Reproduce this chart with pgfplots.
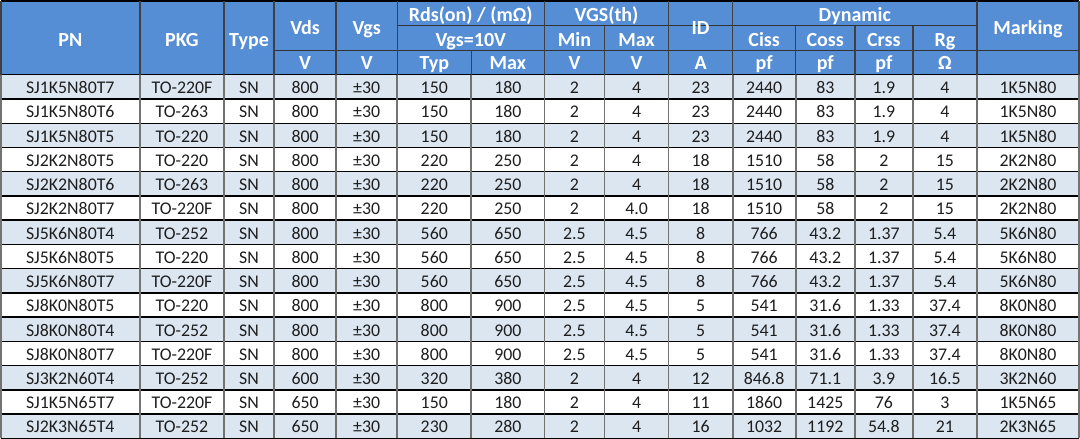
\documentclass[border=0pt]{standalone}
\usepackage{pgfplots}
\usepackage{pgfplotstable}
\pgfplotsset{compat=1.18}
\usepackage{fontspec}
\setmainfont{Carlito}
\definecolor{hdr}{RGB}{85,142,213}
\definecolor{alt}{RGB}{220,230,241}
\definecolor{vline}{RGB}{115,115,115}
\definecolor{txt}{RGB}{30,30,30}

\pgfplotstableread[col sep=comma]{
PN,PKG,Type,Vds,Vgs,Typ,RMax,Min,VMax,ID,Ciss,Coss,Crss,Rg,Marking
SJ1K5N80T7,TO-220F,SN,800,±30,150,180,2,4,23,2440,83,1.9,4,1K5N80
SJ1K5N80T6,TO-263,SN,800,±30,150,180,2,4,23,2440,83,1.9,4,1K5N80
SJ1K5N80T5,TO-220,SN,800,±30,150,180,2,4,23,2440,83,1.9,4,1K5N80
SJ2K2N80T5,TO-220,SN,800,±30,220,250,2,4,18,1510,58,2,15,2K2N80
SJ2K2N80T6,TO-263,SN,800,±30,220,250,2,4,18,1510,58,2,15,2K2N80
SJ2K2N80T7,TO-220F,SN,800,±30,220,250,2,4.0,18,1510,58,2,15,2K2N80
SJ5K6N80T4,TO-252,SN,800,±30,560,650,2.5,4.5,8,766,43.2,1.37,5.4,5K6N80
SJ5K6N80T5,TO-220,SN,800,±30,560,650,2.5,4.5,8,766,43.2,1.37,5.4,5K6N80
SJ5K6N80T7,TO-220F,SN,800,±30,560,650,2.5,4.5,8,766,43.2,1.37,5.4,5K6N80
SJ8K0N80T5,TO-220,SN,800,±30,800,900,2.5,4.5,5,541,31.6,1.33,37.4,8K0N80
SJ8K0N80T4,TO-252,SN,800,±30,800,900,2.5,4.5,5,541,31.6,1.33,37.4,8K0N80
SJ8K0N80T7,TO-220F,SN,800,±30,800,900,2.5,4.5,5,541,31.6,1.33,37.4,8K0N80
SJ3K2N60T4,TO-252,SN,600,±30,320,380,2,4,12,846.8,71.1,3.9,16.5,3K2N60
SJ1K5N65T7,TO-220F,SN,650,±30,150,180,2,4,11,1860,1425,76,3,1K5N65
SJ2K3N65T4,TO-252,SN,650,±30,230,280,2,4,16,1032,1192,54.8,21,2K3N65
}\tbl

\begin{document}
\begin{tikzpicture}
\begin{axis}[scale only axis, width=540pt, height=219pt,
  xmin=0, xmax=1080, ymin=0, ymax=438, y dir=reverse,
  hide axis, clip=false]
\pgfplotsextra{
  % backgrounds
  \fill[hdr] (axis cs:0,0) rectangle (axis cs:1077,74);
  \foreach \r in {0,2,...,14} {
    \pgfmathsetmacro\yt{74+\r*24.2}
    \pgfmathsetmacro\yb{74+(\r+1)*24.2}
    \fill[alt] (axis cs:0,\yt) rectangle (axis cs:1077,\yb);
  }
  % horizontal lines
  \foreach \r in {0,...,15} {
    \pgfmathsetmacro\yy{74+\r*24.2}
    \draw[black, line width=0.7pt] (axis cs:0,\yy) -- (axis cs:1077,\yy);
  }
  \draw[black, line width=0.7pt] (axis cs:0,0.4) -- (axis cs:1077,0.4);
  \draw[black!80, line width=0.6pt] (axis cs:396,25) -- (axis cs:975,25);
  \draw[black!80, line width=0.6pt] (axis cs:273,50) -- (axis cs:1077,50);
  % vertical lines, data area
  \foreach \x in {0.5,139,223,273,335,396,470,543,603,667,731,794,853,911,975,1077} {
    \draw[vline, line width=0.9pt] (axis cs:\x,74) -- (axis cs:\x,436.8);
  }
  % vertical lines, header
  \foreach \x in {0.5,139,223,273,335,396,543,667,731,975,1077} {
    \draw[black!75, line width=0.7pt] (axis cs:\x,0) -- (axis cs:\x,74);
  }
  \draw[black!75, line width=0.7pt] (axis cs:470,50) -- (axis cs:470,74);
  \foreach \x in {603,794,853,911} {
    \draw[black!75, line width=0.7pt] (axis cs:\x,25) -- (axis cs:\x,74);
  }
  % header text
  \tikzset{h/.style={text=white, font=\fontsize{10}{12}\selectfont\bfseries,
     text height=6.4pt, text depth=0pt, inner sep=0pt, anchor=center}}
  \node[h] at (axis cs:69.5,39) {PN};
  \node[h] at (axis cs:181,39) {PKG};
  \node[h] at (axis cs:248,39) {Type};
  \node[h] at (axis cs:304,27) {Vds};
  \node[h] at (axis cs:365.5,27) {Vgs};
  \node[h] at (axis cs:469.5,14) {Rds(on) / (mΩ)};
  \node[h] at (axis cs:469.5,39) {Vgs=10V};
  \node[h] at (axis cs:605,14) {VGS(th)};
  \node[h] at (axis cs:573,39) {Min};
  \node[h] at (axis cs:635,39) {Max};
  \node[h] at (axis cs:699,27) {ID};
  \node[h] at (axis cs:853,14) {Dynamic};
  \node[h] at (axis cs:762.5,39) {Ciss};
  \node[h] at (axis cs:823.5,39) {Coss};
  \node[h] at (axis cs:882,39) {Crss};
  \node[h] at (axis cs:943,39) {Rg};
  \node[h] at (axis cs:1026,27) {Marking};
  \node[h] at (axis cs:304,62.5) {V};
  \node[h] at (axis cs:365.5,62.5) {V};
  \node[h] at (axis cs:433,62.5) {Typ};
  \node[h] at (axis cs:506.5,62.5) {Max};
  \node[h] at (axis cs:573,62.5) {V};
  \node[h] at (axis cs:635,62.5) {V};
  \node[h] at (axis cs:699,62.5) {A};
  \node[h] at (axis cs:762.5,62.5) {pf};
  \node[h] at (axis cs:823.5,62.5) {pf};
  \node[h] at (axis cs:882,62.5) {pf};
  \node[h] at (axis cs:943,62.5) {Ω};
  % data text
  \foreach \r in {0,...,14} {
    \pgfmathsetmacro\ym{74+\r*24.2+13.2}
    \foreach \c/\xc in {0/69.5,1/181,2/248,3/304,4/365.5,5/433,6/506.5,7/573,8/635,9/699,10/762.5,11/823.5,12/882,13/943,14/1026} {
      \pgfplotstablegetelem{\r}{[index]\c}\of\tbl
      \node[text=txt, font=\fontsize{8.9}{10}\selectfont, text height=5.7pt,
        text depth=0pt, inner sep=0pt, anchor=center] at (axis cs:\xc,\ym) {\pgfplotsretval};
    }
  }
}
\end{axis}
\end{tikzpicture}
\end{document}
